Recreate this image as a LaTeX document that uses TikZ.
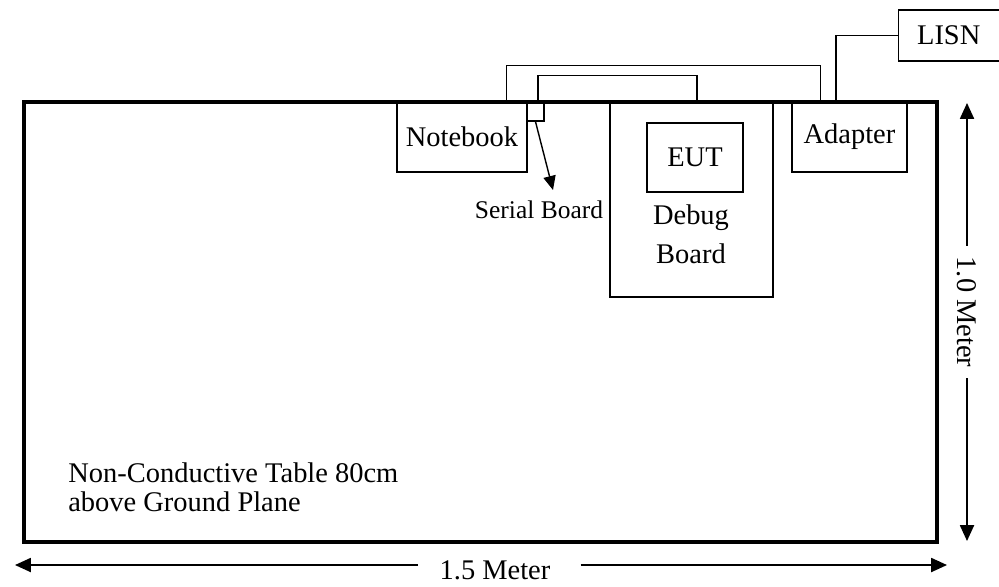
\documentclass[tikz,border=0pt]{standalone}
\usepackage{fontspec}
\setmainfont{Liberation Serif}
\usetikzlibrary{arrows.meta, calc}

\begin{document}
\begin{tikzpicture}[x=0.02cm, y=-0.02cm,
    box/.style={draw, line width=0.8pt, inner sep=0pt,
                font=\fontsize{16.2}{19}\selectfont},
    lbl/.style={inner sep=0pt, font=\fontsize{16.2}{19}\selectfont},
    wire/.style={line width=0.8pt},
    dim/.style={line width=0.9pt, -{Triangle[length=9pt, width=8pt]}}
  ]
  \clip[use as bounding box] (0,0) rectangle (999,586);

  % Equipment along the table edge
  \node[box, minimum width=2.6cm, minimum height=1.4cm]   (nb)  at (462,137) {Notebook};
  \node[box, minimum width=0.34cm, minimum height=0.38cm] (sb)  at (535.5,111.5) {};
  \node[box, minimum width=3.26cm, minimum height=3.9cm]  (db)  at (691.5,199.5) {};
  \node[box, minimum width=1.92cm, minimum height=1.38cm] (eut) at (695,157.5) {EUT};
  \node[lbl, align=center, font=\fontsize{16.2}{22}\selectfont]
        (dbl) at (691,234) {Debug\\Board};
  \node[box, minimum width=2.3cm, minimum height=1.4cm]   (ad)  at (849.5,137) {Adapter};
  \node[box, minimum width=2.3cm, minimum height=1.02cm, anchor=west]
        (ls) at (898,35.5) {LISN\kern8.5pt};

  % Table
  \draw[line width=1.9pt] (24,102) rectangle (937,542);
  \node[lbl, align=left, anchor=north west, font=\fontsize{16.2}{16.5}\selectfont]
        (tbl) at (68,462) {Non-Conductive Table 80cm\\above Ground Plane};

  % Cables
  \draw[wire] ($(nb.north east)+(-21,0)$) -- ++(0,-36) -| ($(ad.north west)+(29,0)$);
  \draw[wire] ($(sb.north)+(2.5,0)$) -- ++(0,-26) -| ($(db.north)+(5.5,0)$);
  \draw[wire] ($(ad.north)+(-13.5,0)$) |- (ls.west);

  % Serial board pointer
  \node[lbl, font=\fontsize{14.5}{17}\selectfont] (sbl) at (539,210) {Serial Board};
  \coordinate (sbtip) at (553,190);
  \draw[wire, -{Triangle[length=8pt, width=7pt]}] (sb.south) -- (sbtip);

  % Dimensions
  \node[lbl, rotate=-90] (vm) at (967,312) {1.0 Meter};
  \coordinate (vtop) at (967,103);
  \coordinate (vbot) at (967,541);
  \draw[dim, shorten <=6pt] (vm.west) -- (vtop);
  \draw[dim, shorten <=6pt] (vm.east) -- (vbot);

  \node[lbl] (hm) at (495,570) {1.5 Meter};
  \coordinate (hl) at (15,565);
  \coordinate (hr) at (947,565);
  \draw[dim, shorten <=12pt] (hl -| hm.west) -- (hl);
  \draw[dim, shorten <=17pt] (hl -| hm.east) -- (hr);
\end{tikzpicture}
\end{document}
